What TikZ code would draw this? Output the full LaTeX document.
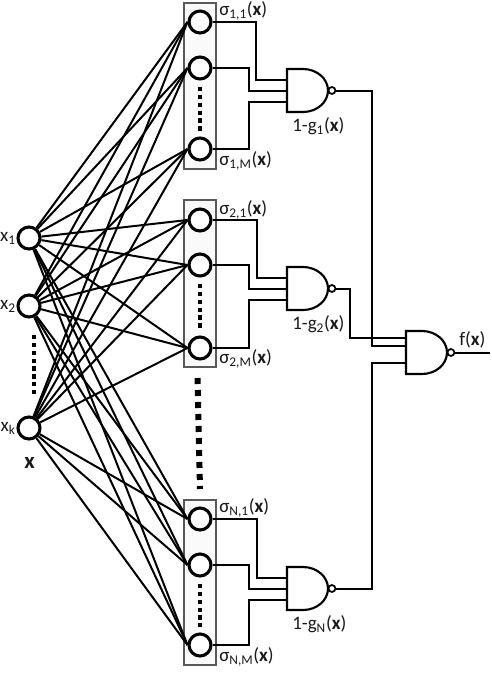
\documentclass[tikz,border=0pt]{standalone}
\usepackage{fontspec}
\setmainfont{Carlito}
\newcommand{\nandg}[3]{% name, left x, top y (px)
  \draw[gateline] (#2,-#3) -- ++(16,0) arc[start angle=90,end angle=-90,x radius=25,y radius=21.5] -- ++(-16,0) -- cycle;
  \coordinate (#1tip) at (#2+41,-#3-21.5);
  \node[bubble,right=-0.3pt] (#1b) at (#1tip) {};
  \coordinate (#1a) at (#2,-#3-11);
  \coordinate (#1c) at (#2,-#3-21.5);
  \coordinate (#1d) at (#2,-#3-33);
}
\tikzset{
  x=0.75pt,y=0.75pt,
  neuron/.style={circle,draw=black,fill=white,line width=2.3pt,minimum size=16.5pt,inner sep=0pt},
  bubble/.style={circle,draw=black,fill=white,line width=1.3pt,minimum size=5.2pt,inner sep=0pt},
  gateline/.style={line width=1.6pt,line join=miter},
  wire/.style={line width=1.5pt},
  link/.style={line width=1.5pt},
  groupbox/.style={draw=black!65,fill=black!2,line width=1pt},
  dotsv/.style={line width=3pt,dash pattern=on 3.2pt off 2.7pt},
  bigdots/.style={line width=4.5pt,dash pattern=on 4.5pt off 4.5pt},
  lab/.style={inner sep=0pt,font=\fontsize{14.3}{16}\selectfont,text=black!90},
}
\begin{document}
\begin{tikzpicture}
\useasboundingbox (0,0) rectangle (492,-674);
% group boxes
\draw[groupbox] (184,-3) rectangle (216,-169);
\draw[groupbox] (184,-200) rectangle (216,-367);
\draw[groupbox] (184,-500) rectangle (216,-665);
% nodes
\node[neuron] (x1) at (29,-238) {};
\node[neuron] (x2) at (29,-306) {};
\node[neuron] (xk) at (29,-428) {};
\foreach \n/\y in {a1/22,aj/68,am/149,b1/220,bj/265,bm/348,n1/519,nj/565,nm/645}
  \node[neuron] (\n) at (200,-\y) {};
% links
\foreach \i in {x1,x2,xk}
  \foreach \n in {a1,aj,am,b1,bj,bm,n1,nj,nm}
    \draw[link] (\i) -- (\n.west);
% dots
\draw[dotsv] (200,-87) -- (200,-131);
\draw[dotsv] (200,-284) -- (200,-328);
\draw[dotsv] (200,-584) -- (200,-627);
\draw[dotsv] (33.5,-335) -- (33.5,-395);
\draw[bigdots] (197.5,-378) -- (200,-489);
% gates
\nandg{g1}{287}{69}
\nandg{g2}{287}{267}
\nandg{gn}{287}{567}
\nandg{gf}{406}{331}
% wires
\draw[wire] (a1) -| (256,-80) -- (g1a);
\draw[wire] (aj) -| (249,-90.5) -- (g1c);
\draw[wire] (am) -| (249,-102) -- (g1d);
\draw[wire] (b1) -| (257,-278) -- (g2a);
\draw[wire] (bj) -| (249,-288.5) -- (g2c);
\draw[wire] (bm) -| (249,-300) -- (g2d);
\draw[wire] (n1) -| (257,-578) -- (gna);
\draw[wire] (nj) -| (249,-588.5) -- (gnc);
\draw[wire] (nm) -| (249,-600) -- (gnd);
\draw[wire] (g1b.east) -| (372,-346) -- (gfc |- 0,-346);
\draw[wire] (g2b.east) -| (350,-338) -- (gfa |- 0,-338);
\draw[wire] (gnb.east) -| (372,-363) -- (gfd |- 0,-363);
\coordinate (fout) at (490,-352.5);
\draw[wire] (gfb.east) -- (fout);
% labels
\node[lab,anchor=east] (lx1) at (16,-238.5) {x\textsubscript{1}};
\node[lab,anchor=east] (lx2) at (16,-306.5) {x\textsubscript{2}};
\node[lab,anchor=east] (lxk) at (16,-428.5) {x\textsubscript{k}};
\node[lab] (lx) at (29.5,-463) {\fontsize{17}{18}\selectfont\textbf{x}};
\newcommand{\sig}[1]{σ\textsubscript{#1}(\textbf{x})}
\node[lab,anchor=west] at (219,-10.5) {\sig{1,1}};
\node[lab,anchor=west] at (219,-160.5) {\sig{1,M}};
\node[lab,anchor=west] at (219,-209.5) {\sig{2,1}};
\node[lab,anchor=west] at (219,-358.5) {\sig{2,M}};
\node[lab,anchor=west] at (219,-507.5) {\sig{N,1}};
\node[lab,anchor=west] at (219,-656.5) {\sig{N,M}};
\node[lab,anchor=west] at (292,-126.5) {1-g\textsubscript{1}(\textbf{x})};
\node[lab,anchor=west] at (292,-324.5) {1-g\textsubscript{2}(\textbf{x})};
\node[lab,anchor=west] at (292,-624.5) {1-g\textsubscript{N}(\textbf{x})};
\node[lab,anchor=west] at (459,-339.5) {f(\textbf{x})};
\end{tikzpicture}
\end{document}
